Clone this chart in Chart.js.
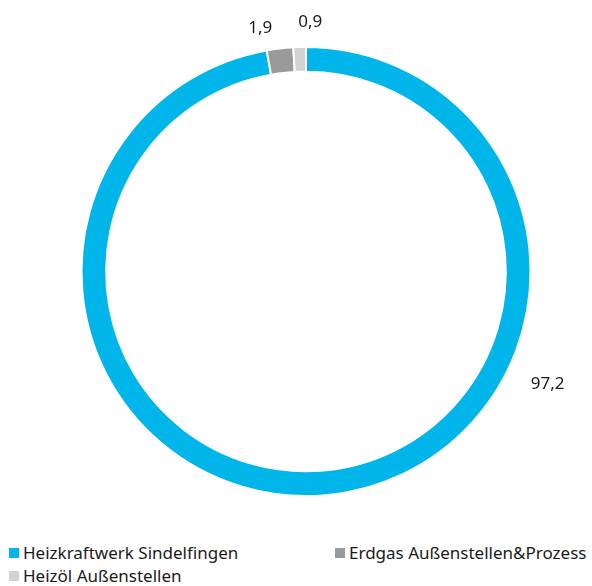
<!DOCTYPE html>
<html>
<head>
<meta charset="utf-8">
<script src="https://cdn.jsdelivr.net/npm/chart.js@4"></script>
<style>
  html, body { margin: 0; padding: 0; background: #fff; }
  body { width: 592px; height: 586px; overflow: hidden; font-family: "Noto Sans", sans-serif; }
  .chart-wrap { position: relative; width: 592px; height: 535px; }
  .legend { position: relative; height: 51px; font-size: 17px; color: #1a1a1a; }
  .leg-item { position: absolute; display: flex; align-items: center; white-space: nowrap; line-height: 20px; }
  .leg-box { width: 10px; height: 10px; margin-right: 4px; }
</style>
</head>
<body>
<div class="chart-wrap"><canvas id="chart"></canvas></div>
<div class="legend" id="legend"></div>
<script>
const categories = ['Heizkraftwerk Sindelfingen', 'Erdgas Außenstellen&Prozess', 'Heizöl Außenstellen'];
const values = [97.2, 1.9, 0.9];
const colors = ['#00b5ea', '#9a9a9a', '#d2d2d2'];

const fmt = v => String(v).replace('.', ',');

// value labels outside the ring, nudged like the original
const outsideLabels = {
  id: 'outsideLabels',
  afterDatasetsDraw(chart, args, opts) {
    const { ctx } = chart;
    const meta = chart.getDatasetMeta(0);
    ctx.save();
    ctx.font = '17px "Noto Sans", sans-serif';
    ctx.fillStyle = '#1a1a1a';
    ctx.textAlign = 'center';
    ctx.textBaseline = 'middle';
    meta.data.forEach((arc, i) => {
      const p = arc.getProps(['x', 'y', 'startAngle', 'endAngle', 'outerRadius'], true);
      const a = (p.startAngle + p.endAngle) / 2 + opts.shift[i] * Math.PI / 180;
      const r = p.outerRadius + opts.gap[i];
      ctx.fillText(fmt(values[i]), p.x + r * Math.cos(a), p.y + r * Math.sin(a));
    });
    ctx.restore();
  }
};

new Chart(document.getElementById('chart'), {
  type: 'doughnut',
  data: {
    labels: categories,
    datasets: [{ data: values, backgroundColor: colors, borderColor: '#fff', borderWidth: 2 }]
  },
  options: {
    responsive: true, maintainAspectRatio: false, animation: false,
    cutout: '89%',
    layout: { padding: { top: 46, bottom: 38, left: 20, right: 0 } },
    plugins: {
      legend: { display: false },
      tooltip: { enabled: false },
      outsideLabels: { shift: [-60, -4, 2.6], gap: [42, 23, 25] }
    }
  },
  plugins: [outsideLabels]
});

// legend below the chart, two columns
const legPos = [[9, 8], [335, 8], [9, 31]];
document.getElementById('legend').innerHTML = categories.map((c, i) =>
  `<div class="leg-item" style="left:${legPos[i][0]}px;top:${legPos[i][1]}px"><div class="leg-box" style="background:${colors[i]}"></div>${c}</div>`
).join('');
</script>
</body>
</html>
